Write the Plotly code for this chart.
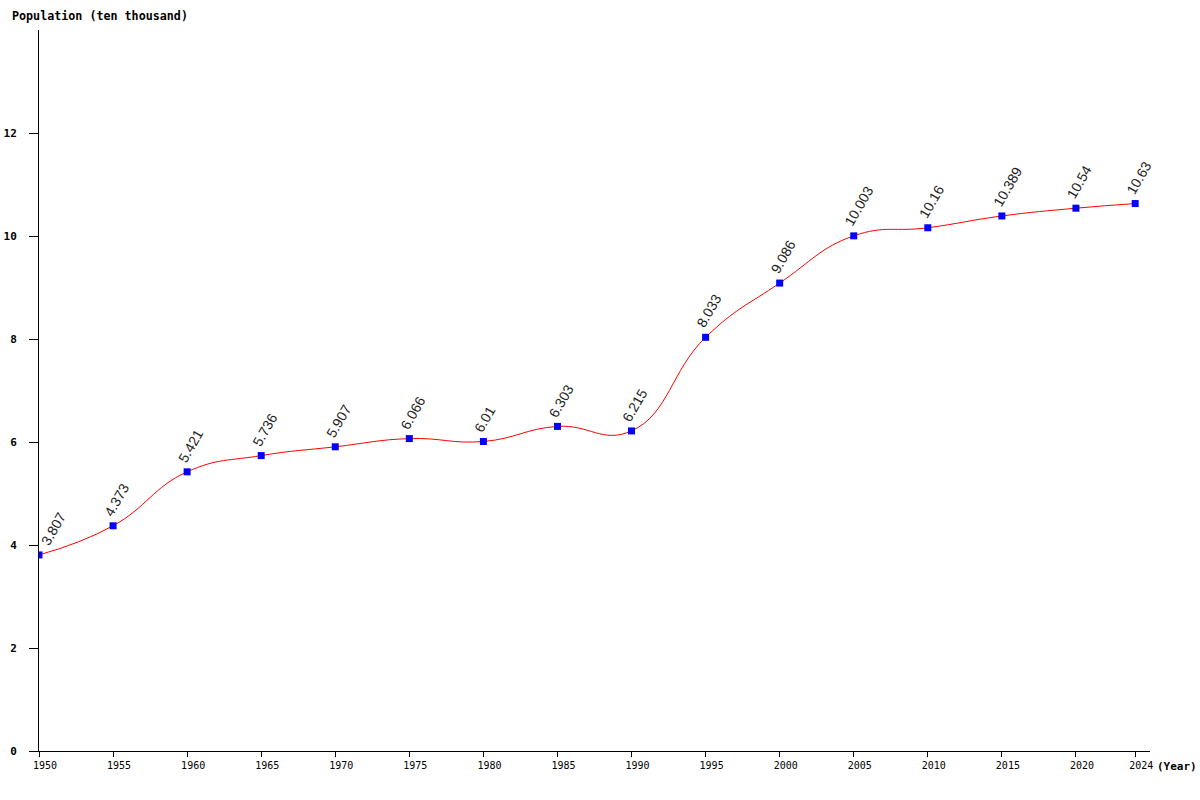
import plotly.graph_objects as go

# population series (ten thousand)
years = [1950, 1955, 1960, 1965, 1970, 1975, 1980, 1985, 1990, 1995, 2000, 2005, 2010, 2015, 2020, 2024]
population = [3.807, 4.373, 5.421, 5.736, 5.907, 6.066, 6.01, 6.303, 6.215, 8.033, 9.086, 10.003, 10.16, 10.389, 10.54, 10.63]
labels = ["3.807", "4.373", "5.421", "5.736", "5.907", "6.066", "6.01", "6.303", "6.215", "8.033", "9.086", "10.003", "10.16", "10.389", "10.54", "10.63"]
y_ticks = [0, 2, 4, 6, 8, 10, 12]

mono = "DejaVu Sans Mono, Courier New, monospace"

fig = go.Figure()

fig.add_trace(go.Scatter(
    x=years, y=population,
    mode="lines+markers",
    line=dict(color="red", width=1, shape="spline", smoothing=1.3),
    marker=dict(symbol="square", size=7, color="blue"),
    hoverinfo="x+y",
))

# rotated value labels above each point (first one nudged off the y axis)
for i, (yr, val, txt) in enumerate(zip(years, population, labels)):
    fig.add_annotation(
        x=yr, y=val, text=txt, showarrow=False,
        textangle=-60, xanchor="left", yanchor="bottom",
        xshift=-4 if i == 0 else -15, yshift=4,
        font=dict(family="Liberation Sans, Arial", size=14, color="#222"),
    )

fig.add_annotation(
    x=-0.026, y=1.0194, xref="paper", yref="paper",
    xanchor="left", yanchor="middle", showarrow=False,
    text="<b>Population (ten thousand)</b>",
    font=dict(family=mono, size=11.7, color="black"),
)
fig.add_annotation(
    x=1.0441, y=-0.022, xref="paper", yref="paper",
    xanchor="right", yanchor="middle", showarrow=False,
    text="<b>(Year)</b>",
    font=dict(family=mono, size=11, color="black"),
)

fig.update_layout(
    width=1200, height=800,
    paper_bgcolor="white", plot_bgcolor="white",
    margin=dict(l=39, r=50, t=30, b=49),
    showlegend=False,
    xaxis=dict(
        range=[1950, 2025], automargin=False,
        tickmode="array", tickvals=years,
        ticktext=["\u00a0\u00a0" + str(y) for y in years],
        showgrid=False, zeroline=False,
        showline=True, linecolor="black", linewidth=1,
        ticks="outside", ticklen=5, tickcolor="black",
        tickfont=dict(family=mono, size=10, color="black"),
    ),
    yaxis=dict(
        range=[0, 14], automargin=False,
        tickmode="array", tickvals=y_ticks,
        ticktext=["<b>%d</b>" % v for v in y_ticks],
        showgrid=False, zeroline=False,
        showline=True, linecolor="black", linewidth=1,
        ticks="outside", ticklen=9, tickcolor="black",
        ticklabelstandoff=10,
        tickfont=dict(family=mono, size=11, color="black"),
    ),
)

# drop the default page margin so the figure sits at the window's corner
fig.write_html("out.html", config={"displayModeBar": False},
               post_script="document.body.style.margin='0';")
